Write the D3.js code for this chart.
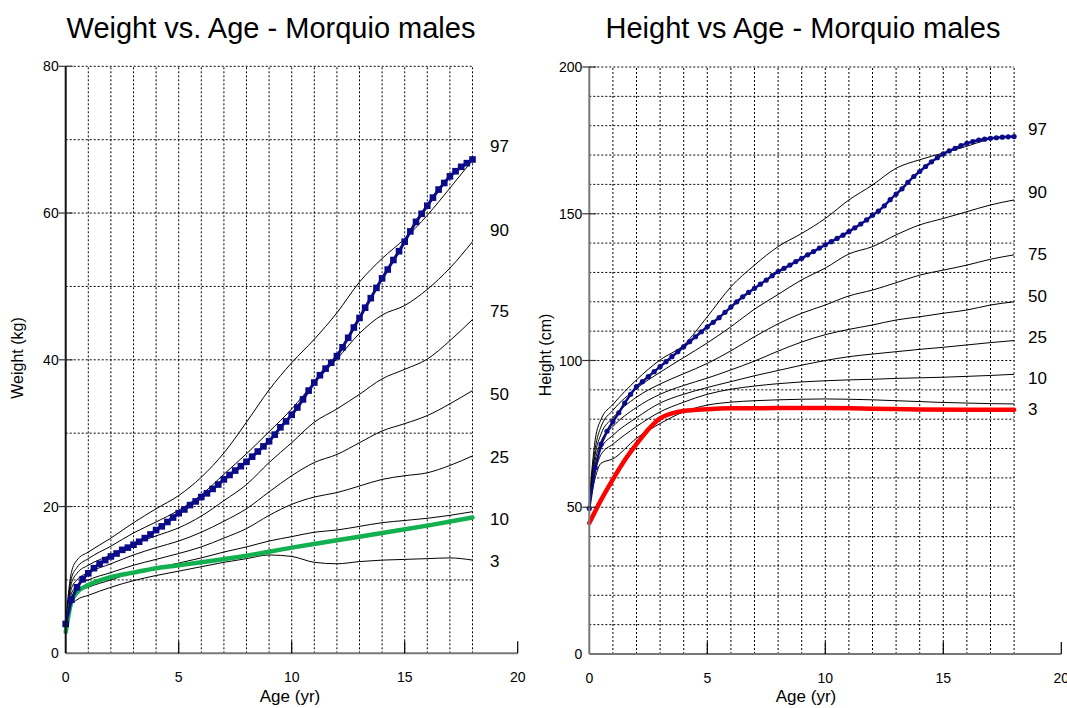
<!DOCTYPE html>
<html>
<head>
<meta charset="utf-8">
<script src="https://cdn.jsdelivr.net/npm/d3@7"></script>
<style>
  body { margin: 0; background: #fff; }
  svg text { font-family: "Liberation Sans", Arial, Helvetica, sans-serif; fill: #000; }
</style>
</head>
<body>
<svg id="chart" width="1067" height="708"></svg>
<script>
// ---- data ----
var pctNames = ["97", "90", "75", "50", "25", "10", "3"];
var pctAges = [0, 0.25, 0.5, 1, 2, 3, 4, 5, 6, 7, 8, 9, 10, 11, 12, 13, 14, 15, 16, 17, 18];

// weight percentiles (kg), one row per percentile, same order as pctNames
var weight97 = [4.3, 11.0, 12.7, 13.8, 15.7, 17.8, 19.7, 21.5, 24.0, 27.3, 31.5, 35.9, 39.6, 42.8, 46.4, 50.6, 53.8, 56.5, 59.7, 63.4, 67.2];
var weight90 = [4.1, 10.2, 11.7, 12.9, 14.6, 16.4, 17.9, 19.5, 21.6, 24.4, 27.2, 30.2, 33.3, 36.9, 40.1, 43.6, 46.1, 47.4, 49.6, 52.5, 56.1];
var weight75 = [3.9, 9.5, 10.9, 12.0, 13.4, 14.9, 16.0, 17.1, 18.7, 20.8, 23.0, 26.0, 28.7, 31.5, 33.3, 35.3, 37.4, 38.7, 40.1, 42.6, 45.5];
var weight50 = [3.7, 8.8, 10.0, 11.0, 12.2, 13.4, 14.4, 15.3, 16.5, 18.0, 19.7, 22.0, 24.2, 26.0, 27.1, 28.7, 30.3, 31.3, 32.4, 34.0, 35.8];
var weight25 = [3.5, 8.1, 9.2, 10.0, 11.0, 12.0, 12.8, 13.6, 14.5, 15.7, 17.0, 18.8, 20.3, 21.3, 21.9, 22.8, 23.7, 24.2, 24.6, 25.6, 26.9];
var weight10 = [3.3, 7.4, 8.3, 9.0, 10.0, 11.0, 11.6, 12.3, 13.0, 13.8, 14.5, 15.3, 15.9, 16.5, 16.8, 17.3, 17.8, 18.1, 18.4, 18.8, 19.3];
var weight03 = [3.1, 6.5, 7.3, 7.9, 9.0, 9.9, 10.6, 11.2, 11.8, 12.4, 12.9, 13.4, 13.2, 12.4, 12.2, 12.5, 12.7, 12.8, 12.9, 13.0, 12.7];

// height percentiles (cm)
var height97 = [52.5, 73, 80, 85, 93.4, 100.2, 105.3, 114.9, 125.1, 132.5, 138.8, 143.3, 148.4, 154.7, 159.8, 165.5, 168.4, 170.7, 173.0, 175.5, 176.3];
var height90 = [52, 70, 77.5, 83, 90.5, 96, 101, 106, 111.5, 117.5, 122.5, 127.5, 131.5, 136.3, 138.8, 142.8, 146.2, 148.4, 150.7, 153.0, 154.7];
var height75 = [51.5, 68, 75, 80.5, 87.5, 92, 95.5, 99, 103.3, 108.1, 112.5, 116.1, 118.9, 122.0, 124.0, 126.5, 129.1, 130.8, 132.5, 134.5, 136.0];
var height50 = [51, 66, 72.5, 77.5, 84, 88.5, 91.5, 94.0, 96.8, 99.8, 103.2, 106.3, 108.8, 110.6, 112.1, 113.8, 114.9, 116.1, 117.2, 118.9, 120.0];
var height25 = [50.5, 64, 70, 74.5, 80.5, 85.5, 88.5, 90.8, 92.8, 94.8, 96.6, 98.4, 100.0, 101.3, 102.2, 103.0, 103.8, 104.5, 105.3, 106.1, 106.8];
var height10 = [50, 62, 68, 71.5, 77.5, 82.5, 85.8, 88.5, 90.2, 91.3, 92.1, 92.7, 93.1, 93.4, 93.6, 93.9, 94.1, 94.3, 94.6, 94.9, 95.3];
var height03 = [50, 60, 65, 66.5, 73.5, 78.5, 82.5, 84.8, 85.8, 86.3, 86.6, 86.8, 86.9, 86.8, 86.6, 86.3, 86.0, 85.7, 85.5, 85.3, 85.2];

// patient measurements (blue), quarter-year steps
var patientAges = [0, 0.25, 0.5, 0.75, 1, 1.25, 1.5, 1.75, 2, 2.25, 2.5, 2.75, 3, 3.25, 3.5, 3.75, 4, 4.25, 4.5, 4.75,
  5, 5.25, 5.5, 5.75, 6, 6.25, 6.5, 6.75, 7, 7.25, 7.5, 7.75, 8, 8.25, 8.5, 8.75, 9, 9.25, 9.5, 9.75,
  10, 10.25, 10.5, 10.75, 11, 11.25, 11.5, 11.75, 12, 12.25, 12.5, 12.75, 13, 13.25, 13.5, 13.75, 14, 14.25, 14.5, 14.75,
  15, 15.25, 15.5, 15.75, 16, 16.25, 16.5, 16.75, 17, 17.25, 17.5, 17.75, 18];
var patientWeight = [4.0, 7.3, 9.0, 10.1, 10.9, 11.6, 12.2, 12.7, 13.2, 13.6, 14.1, 14.4, 14.8, 15.2, 15.7, 16.2, 16.8, 17.3, 17.9, 18.5,
  19.1, 19.6, 20.2, 20.7, 21.3, 21.8, 22.4, 23.0, 23.7, 24.3, 24.9, 25.5, 26.1, 26.8, 27.5, 28.2, 28.9, 29.8, 30.8, 31.6,
  32.5, 33.5, 34.6, 35.8, 36.9, 37.9, 38.8, 39.6, 40.5, 41.7, 43.0, 44.4, 45.7, 47.1, 48.4, 49.8, 51.1, 52.3, 53.6, 54.8,
  56.1, 57.5, 58.8, 59.9, 61.0, 62.1, 63.2, 64.1, 65.0, 65.7, 66.3, 66.8, 67.3];
var patientHeight = [49.6, 63.5, 71.5, 75.9, 79.2, 82.2, 85.5, 88.5, 91.1, 92.8, 94.5, 96.2, 97.9, 99.6, 101.3, 103.0, 104.7, 106.4, 108.1, 109.8,
  111.5, 113.0, 114.6, 116.4, 118.2, 120.0, 121.7, 123.2, 124.6, 126.0, 127.4, 128.9, 130.3, 131.4, 132.5, 133.7, 134.8, 136.0, 137.1, 138.3,
  139.4, 140.5, 141.6, 142.7, 143.9, 145.2, 146.5, 147.9, 149.5, 150.9, 152.7, 154.8, 156.7, 158.5, 160.7, 162.7, 164.4, 166.1, 167.7, 169.1,
  170.4, 171.4, 172.3, 173.2, 174.0, 174.6, 175.1, 175.4, 175.7, 175.9, 176.1, 176.2, 176.3];

// reference curves (green weight, red height)
var greenAges = [0, 0.25, 0.5, 1, 2, 3, 4, 5, 6, 8, 10, 12, 14, 16, 18];
var greenWeight = [2.9, 7.0, 8.3, 9.3, 10.4, 11.0, 11.6, 12.0, 12.4, 13.3, 14.4, 15.4, 16.4, 17.4, 18.5];
var redAges = [0, 0.5, 1, 1.5, 2, 2.5, 3, 3.5, 4, 5, 6, 8, 10, 12, 14, 16, 18];
var redHeight = [44.6, 52.5, 59.5, 66, 71.5, 76.5, 80.3, 82.0, 82.8, 83.4, 83.7, 83.8, 83.8, 83.6, 83.3, 83.2, 83.2];

// label anchors (data units) for the percentile names at the right of each panel
var weightLabelAt = [69.1, 57.7, 46.6, 35.3, 26.7, 18.3, 12.6];
var heightLabelAt = [178.9, 157.5, 136.3, 122.1, 108.1, 94.1, 83.5];

var xTicks = [0, 5, 10, 15, 20];
var weightTicks = [0, 20, 40, 60, 80];
var heightTicks = [0, 50, 100, 150, 200];

// ---- drawing ----
var svg = d3.select("#chart");

function drawPanel(cfg) {
  var x = d3.scaleLinear().domain([0, 20]).range(cfg.xRange),
      y = d3.scaleLinear().domain([0, cfg.yMax]).range(cfg.yRange),
      g = svg.append("g");

  // dotted grid
  var grid = g.append("g").attr("stroke", "#000").attr("stroke-width", 1).attr("stroke-dasharray", "2,2");
  grid.selectAll("line.v").data(d3.range(1, 19)).enter().append("line")
    .attr("x1", function(d) { return x(d); }).attr("x2", function(d) { return x(d); })
    .attr("y1", y(0)).attr("y2", y(cfg.yMax));
  grid.selectAll("line.h").data(d3.range(cfg.gridStep, cfg.yMax + 0.1, cfg.gridStep)).enter().append("line")
    .attr("x1", x(0)).attr("x2", x(18))
    .attr("y1", function(d) { return y(d); }).attr("y2", function(d) { return y(d); });

  // percentile curves
  var line = d3.line().x(function(d) { return x(d[0]); }).y(function(d) { return y(d[1]); }).curve(d3.curveMonotoneX);
  cfg.pct.forEach(function(vals) {
    g.append("path").attr("fill", "none").attr("stroke", "#000").attr("stroke-width", 1)
      .attr("d", line(d3.zip(pctAges, vals)));
  });

  // reference curve
  g.append("path").attr("fill", "none").attr("stroke", cfg.refColor).attr("stroke-width", 4.5)
    .attr("stroke-linecap", "round")
    .attr("d", line(d3.zip(cfg.refAges, cfg.refVals)));

  // patient
  var pts = d3.zip(patientAges, cfg.patient);
  var lin = d3.line().x(function(d) { return x(d[0]); }).y(function(d) { return y(d[1]); });
  g.append("path").attr("fill", "none").attr("stroke", "#0b0b8a").attr("stroke-width", cfg.square ? 3 : 2.5)
    .attr("d", lin(pts));
  if (cfg.square) {
    g.selectAll("rect.pt").data(pts).enter().append("rect")
      .attr("x", function(d) { return x(d[0]) - 3.3; }).attr("y", function(d) { return y(d[1]) - 3.3; })
      .attr("width", 6.6).attr("height", 6.6).attr("fill", "#0b0b8a");
  } else {
    g.selectAll("circle.pt").data(pts).enter().append("circle")
      .attr("cx", function(d) { return x(d[0]); }).attr("cy", function(d) { return y(d[1]); })
      .attr("r", 2.6).attr("fill", "#0b0b8a");
  }

  // axes
  g.append("line").attr("x1", x(0)).attr("x2", x(20)).attr("y1", y(0)).attr("y2", y(0))
    .attr("stroke", "#777").attr("stroke-width", 2);
  g.append("line").attr("x1", x(0)).attr("x2", x(0)).attr("y1", y(0)).attr("y2", y(cfg.yMax))
    .attr("stroke", cfg.yAxisColor).attr("stroke-width", 2);

  g.selectAll("line.xt").data(xTicks.slice(1)).enter().append("line")
    .attr("x1", function(d) { return x(d); }).attr("x2", function(d) { return x(d); })
    .attr("y1", y(0)).attr("y2", y(0) - 12).attr("stroke", "#000").attr("stroke-width", 1.2);
  g.selectAll("text.xt").data(xTicks).enter().append("text")
    .attr("x", function(d) { return x(d); }).attr("y", y(0) + 29)
    .attr("text-anchor", "middle").attr("font-size", 14).text(function(d) { return d; });

  g.selectAll("line.yt").data(cfg.yTicks.slice(1)).enter().append("line")
    .attr("x1", x(0) - 7).attr("x2", x(0) + 7)
    .attr("y1", function(d) { return y(d); }).attr("y2", function(d) { return y(d); })
    .attr("stroke", "#333").attr("stroke-width", 1.2);
  g.selectAll("text.yt").data(cfg.yTicks).enter().append("text")
    .attr("x", x(0) - 7).attr("y", function(d) { return y(d) + 5; })
    .attr("text-anchor", "end").attr("font-size", 14).text(function(d) { return d; });

  // percentile names
  g.selectAll("text.pct").data(pctNames).enter().append("text")
    .attr("x", cfg.labelX).attr("y", function(d, i) { return y(cfg.labelAt[i]) + 6; })
    .attr("font-size", 17).text(function(d) { return d; });

  // titles
  g.append("text").attr("x", cfg.titleX).attr("y", 38).attr("text-anchor", "middle")
    .attr("font-size", 29).text(cfg.title);
  g.append("text").attr("x", cfg.xTitleX).attr("y", 702).attr("text-anchor", "middle")
    .attr("font-size", 17).text("Age (yr)");
  g.append("text").attr("transform", "translate(" + cfg.yTitleX + "," + cfg.yTitleY + ") rotate(-90)")
    .attr("text-anchor", "middle").attr("font-size", 16).text(cfg.yTitle);
}

drawPanel({
  xRange: [65.7, 517.7], yRange: [653.3, 66.3], yMax: 80, gridStep: 10,
  pct: [weight97, weight90, weight75, weight50, weight25, weight10, weight03],
  refAges: greenAges, refVals: greenWeight, refColor: "#12b04f",
  patient: patientWeight, square: true, yAxisColor: "#111",
  yTicks: weightTicks, labelAt: weightLabelAt, labelX: 490,
  title: "Weight vs. Age - Morquio males", titleX: 271,
  xTitleX: 290, yTitle: "Weight (kg)", yTitleX: 23, yTitleY: 358
});

drawPanel({
  xRange: [589.3, 1061.3], yRange: [654, 67], yMax: 200, gridStep: 10,
  pct: [height97, height90, height75, height50, height25, height10, height03],
  refAges: redAges, refVals: redHeight, refColor: "#ff0000",
  patient: patientHeight, square: false, yAxisColor: "#777",
  yTicks: heightTicks, labelAt: heightLabelAt, labelX: 1028,
  title: "Height vs Age - Morquio males", titleX: 803,
  xTitleX: 806, yTitle: "Height (cm)", yTitleX: 551, yTitleY: 355
});
</script>
</body>
</html>
